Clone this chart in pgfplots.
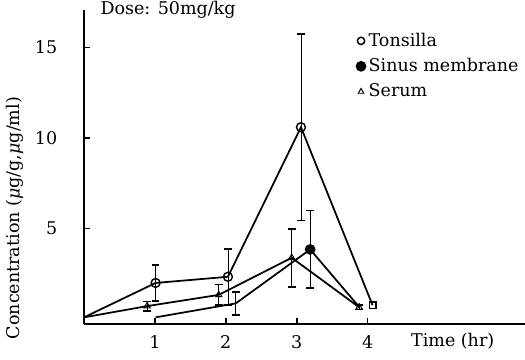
\documentclass[border=0pt]{standalone}
\usepackage{fontspec}
\setmainfont{DejaVu Serif}
\usepackage{pgfplots}
\pgfplotsset{compat=1.18}
\begin{document}
\fontsize{11}{13}\selectfont
\begin{tikzpicture}
\begin{axis}[
  at={(0,0)}, anchor=south west,
  scale only axis, width=277.2pt, height=197.5pt,
  xmin=0, xmax=6.22, ymin=-0.28, ymax=17.07,
  axis x line*=bottom, axis y line*=left,
  axis line style={line width=1.2pt, -},
  xtick={1,2,3,4}, ytick={5,10,15},
  tick align=inside, major tick length=4pt,
  tick style={line width=1.1pt, black},
  /pgf/number format/assume math mode=true,
  ticklabel style={font=\fontsize{11}{13}\selectfont},
  yticklabel style={xshift=-13pt},
  xticklabel style={yshift=-3pt},
  clip=false,
  every axis plot/.append style={line width=1.1pt, black},
  legend style={at={(axis cs:3.84,16.0)}, anchor=north west, draw=none, fill=none,
    inner sep=0pt, row sep=2pt, font=\fontsize{11}{13}\selectfont,
    legend cell align=left},
  legend image code/.code={\draw[#1] plot[only marks] coordinates {(0.12cm,0cm)};},
  error bars/error mark=|,
  error bars/error mark options={mark size=2.4pt, line width=1.1pt, solid},
]
% lines
\addplot[no marks, forget plot] coordinates {(0,0.1) (1.01,2.0) (2.03,2.34) (3.06,10.6) (4.07,0.77)};
\addplot[no marks, forget plot] coordinates {(1.01,0.1) (2.14,0.87) (3.19,3.85) (3.88,0.68)};
\addplot[no marks, forget plot] coordinates {(0,0.1) (0.89,0.72) (1.9,1.34) (2.93,3.39) (3.88,0.66)};
% Tonsilla
\addplot[only marks, mark=o, mark size=2.8pt, mark options={fill=white, line width=0.9pt}, forget plot,
  error bars/.cd, y dir=both, y explicit] table[x=x, y=y, y error=e] {
x y e
1.01 2.0 1.0
2.03 2.34 1.55
3.06 10.6 5.15
};
\addplot[only marks, mark=square, mark size=2.1pt, mark options={fill=white, line width=0.9pt}, forget plot] coordinates {(4.07,0.77)};
% Sinus membrane
\addplot[no marks, forget plot,
  error bars/.cd, y dir=both, y explicit] table[x=x, y=y, y error=e] {
x y e
2.14 0.87 0.63
};
\addplot[only marks, mark=*, mark size=2.8pt, forget plot,
  error bars/.cd, y dir=both, y explicit] table[x=x, y=y, y error=e] {
x y e
3.19 3.85 2.15
};
% Serum
\addplot[only marks, mark=triangle, mark size=2.3pt, mark options={fill=white, line width=0.6pt}, forget plot,
  error bars/.cd, y dir=both, y explicit] table[x=x, y=y, y error=e] {
x y e
0.89 0.72 0.26
1.9 1.34 0.57
2.93 3.39 1.6
3.88 0.66 0.12
};
\addlegendimage{mark=o, mark size=2.3pt, line width=0.9pt}
\addlegendentry{Tonsilla}
\addlegendimage{mark=*, mark size=2.8pt}
\addlegendentry{Sinus membrane}
\addlegendimage{mark=triangle, mark size=2pt, line width=0.6pt}
\addlegendentry{Serum}
\node[rotate=90, anchor=center] at ([xshift=-43.4pt]rel axis cs:0,0.338) {Concentration (\textit{μ}g/g,\textit{μ}g/ml)};
\node[anchor=base] at ([yshift=-14.3pt]axis cs:5.2,-0.28) {Time (hr)};
\node[anchor=north west, inner sep=0pt] at ([xshift=10.2pt, yshift=5.6pt]rel axis cs:0,1) {Dose: 50mg/kg};
\end{axis}
\pgfresetboundingbox
\path[use as bounding box] (-52.8pt,-22pt) rectangle (277.2pt,203.8pt);
\end{tikzpicture}
\end{document}
